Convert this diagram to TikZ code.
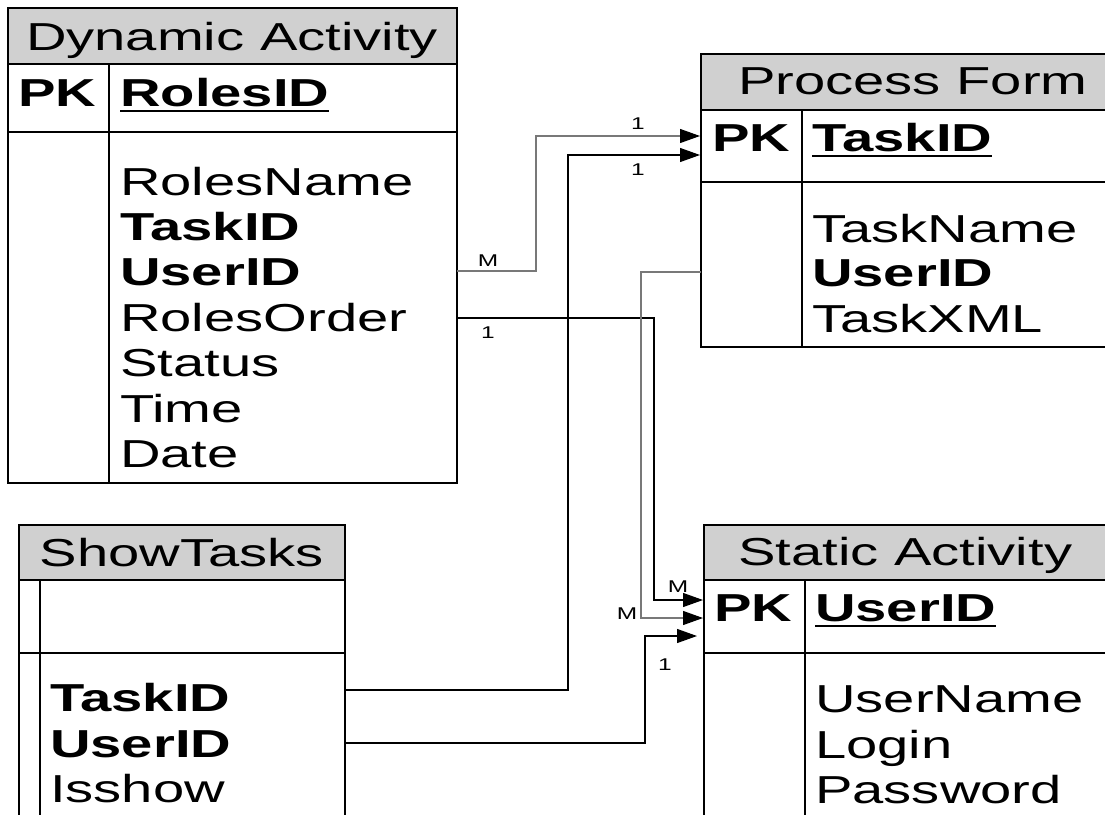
\documentclass[tikz,border=0pt]{standalone}
\usepackage{fontspec}
\setmainfont{Liberation Sans}[FakeStretch=1.44]
\usetikzlibrary{arrows.meta}
\definecolor{hdrgray}{RGB}{208,208,208}
\definecolor{lgray}{RGB}{120,120,120}
\begin{document}
\begin{tikzpicture}[x=1pt,y=-1pt,
  tbl/.style={line width=1.3pt, draw=black},
  txt/.style={anchor=base west, inner sep=0pt, font=\fontsize{39}{46}\selectfont},
  ttl/.style={txt, anchor=base},
  bld/.style={txt, font=\fontsize{39}{46}\selectfont\bfseries},
  card/.style={inner sep=0pt, font=\fontsize{17}{19}\selectfont},
  conn/.style={line width=1.2pt, -{Triangle[length=20pt,width=14pt,color=black]}},
  ul/.style={line width=2.8pt}
]
\useasboundingbox (0,0) rectangle (1105,814);
\clip (0,0) rectangle (1105,814);
\fill[white] (0,0) rectangle (1105,814);

% ---------- Dynamic Activity ----------
\fill[hdrgray] (8,8) rectangle (457,64);
\draw[tbl] (8,8) rectangle (457,483);
\draw[tbl] (8,64) -- (457,64);
\draw[tbl] (8,132) -- (457,132);
\draw[tbl] (109,64) -- (109,483);
\node[ttl] (da-title) at (232,50) {Dynamic Activity};
\node[bld] (da-pk) at (18,106) {PK};
\node[bld] (da-rid) at (120,106) {RolesID};
\draw[ul] ([yshift=-5pt]da-rid.base west) -- ([yshift=-5pt]da-rid.base east);
\node[txt] (da-rn) at (120,195) {RolesName};
\node[bld] (da-tid) at (120,240) {TaskID};
\node[bld] (da-uid) at (120,285) {UserID};
\node[txt] (da-ro) at (120,331) {RolesOrder};
\node[txt] (da-st) at (120,376) {Status};
\node[txt] (da-ti) at (120,422) {Time};
\node[txt] (da-da) at (120,467) {Date};

% ---------- Process Form ----------
\fill[hdrgray] (701,54) rectangle (1120,110);
\draw[tbl] (1120,54) -- (701,54) -- (701,347) -- (1120,347);
\draw[tbl] (701,110) -- (1120,110);
\draw[tbl] (701,182) -- (1120,182);
\draw[tbl] (802,110) -- (802,347);
\node[txt] (pf-title) at (738,94) {Process Form};
\node[bld] (pf-pk) at (712,151) {PK};
\node[bld] (pf-tid) at (812,151) {TaskID};
\draw[ul] ([yshift=-5pt]pf-tid.base west) -- ([yshift=-5pt]pf-tid.base east);
\node[txt] (pf-tn) at (812,242) {TaskName};
\node[bld] (pf-uid) at (812,286) {UserID};
\node[txt] (pf-tx) at (812,332) {TaskXML};

% ---------- ShowTasks ----------
\fill[hdrgray] (19,525) rectangle (345,580);
\draw[tbl] (19,830) -- (19,525) -- (345,525) -- (345,830);
\draw[tbl] (19,580) -- (345,580);
\draw[tbl] (19,653) -- (345,653);
\draw[tbl] (40,580) -- (40,830);
\node[ttl] (st-title) at (182,566) {ShowTasks};
\node[bld] (st-tid) at (50,711) {TaskID};
\node[bld] (st-uid) at (50,757) {UserID};
\node[txt] (st-is) at (50,802) {Isshow};

% ---------- Static Activity ----------
\fill[hdrgray] (704,525) rectangle (1120,580);
\draw[tbl] (1120,525) -- (704,525) -- (704,830);
\draw[tbl] (704,580) -- (1120,580);
\draw[tbl] (704,653) -- (1120,653);
\draw[tbl] (805,580) -- (805,830);
\node[txt] (sa-title) at (738,565) {Static Activity};
\node[bld] (sa-pk) at (714,621) {PK};
\node[bld] (sa-uid) at (815,621) {UserID};
\draw[ul] ([yshift=-5pt]sa-uid.base west) -- ([yshift=-5pt]sa-uid.base east);
\node[txt] (sa-un) at (815,712) {UserName};
\node[txt] (sa-lo) at (815,758) {Login};
\node[txt] (sa-pw) at (815,803) {Password};

% ---------- connector end points ----------
\coordinate (c1s) at (457,271);
\coordinate (c1e) at (700,136);
\coordinate (c2s) at (345,690);
\coordinate (c2e) at (700,155);
\coordinate (c3s) at (457,318);
\coordinate (c3e) at (703,600);
\coordinate (c4s) at (701,272);
\coordinate (c4e) at (703,618);
\coordinate (c5s) at (345,743);
\coordinate (c5e) at (697,636);

% ---------- connectors ----------
\draw[conn, draw=lgray] (c1s) -- (536,271) -- (536,136) -- (c1e);
\draw[conn] (c2s) -- (568,690) -- (568,155) -- (c2e);
\draw[conn] (c3s) -- (654,318) -- (654,600) -- (c3e);
\draw[conn, draw=lgray] (c4s) -- (641,272) -- (641,618) -- (c4e);
\draw[conn] (c5s) -- (645,743) -- (645,636) -- (c5e);

% ---------- cardinalities ----------
\node[card] (l1a) at (488,261) {M};
\node[card] (l1b) at (638,124) {1};
\node[card] (l2b) at (638,170) {1};
\node[card] (l3a) at (488,333) {1};
\node[card] (l3b) at (678,587) {M};
\node[card] (l4b) at (627,614) {M};
\node[card] (l5b) at (665,665) {1};
\end{tikzpicture}
\end{document}
